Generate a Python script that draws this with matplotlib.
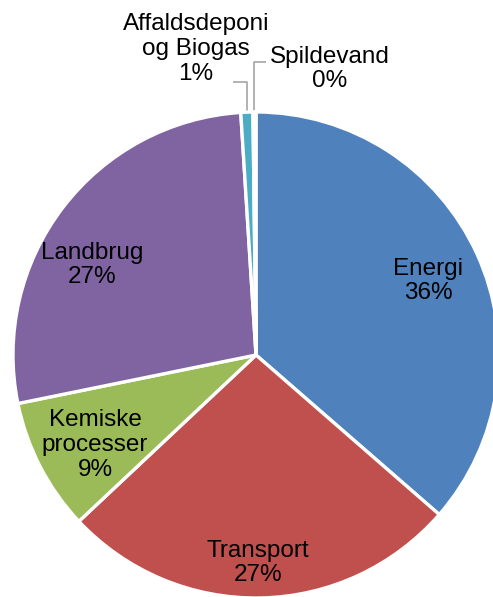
import numpy as np
import matplotlib
matplotlib.use("Agg")
import matplotlib.pyplot as plt

plt.rcParams['font.family'] = ['Liberation Sans', 'DejaVu Sans']

categories = ["Energi", "Transport", "Kemiske\nprocesser", "Landbrug",
              "Affaldsdeponi\nog Biogas", "Spildevand"]
values = [36.4, 26.6, 8.8, 27.2, 0.8, 0.2]
colors = ["#4F81BD", "#C0504D", "#9BBB59", "#8064A2", "#4BACC6", "#F79646"]

# layout (pixel geometry of the reference)
W, H = 493, 597
CX, CY, R = 256, 355, 243
label_px = [(428, 281), (258, 563), (95, 445), (92, 265), (196, 49), (330, 69)]

def to_data(px, py):
    return (px - CX) / R, (CY - py) / R

fig = plt.figure(figsize=(W / 100, H / 100), dpi=100)
ax = fig.add_axes([0, 0, 1, 1])

wedges, _ = ax.pie(values, colors=colors, startangle=90, counterclock=False,
                   radius=1.0, center=(0, 0),
                   wedgeprops=dict(edgecolor='white', linewidth=2.4))

ax.set_aspect('auto')
ax.set_xlim(to_data(0, 0)[0], to_data(W, 0)[0])
ax.set_ylim(to_data(0, H)[1], to_data(0, 0)[1])
ax.axis('off')

total = sum(values)
for i, (w, cat, v) in enumerate(zip(wedges, categories, values)):
    lx, ly = to_data(*label_px[i])
    ax.text(lx, ly, f"{cat}\n{v / total * 100:.0f}%", ha='center', va='center',
            fontsize=17.5, linespacing=1.15, color='black')

# leader lines for the two small slices
leader_ends = {4: (233, 82), 5: (266, 62)}
for i, (ex, ey) in leader_ends.items():
    w = wedges[i]
    mid = np.deg2rad((w.theta1 + w.theta2) / 2)
    sx, sy = np.cos(mid) * 1.0, np.sin(mid) * 1.0
    exd, eyd = to_data(ex, ey)
    ax.plot([sx, sx, exd], [sy, eyd, eyd], color='#A6A6A6', lw=1.2,
            solid_capstyle='butt', zorder=0)

fig.savefig("out.png", dpi=100)
